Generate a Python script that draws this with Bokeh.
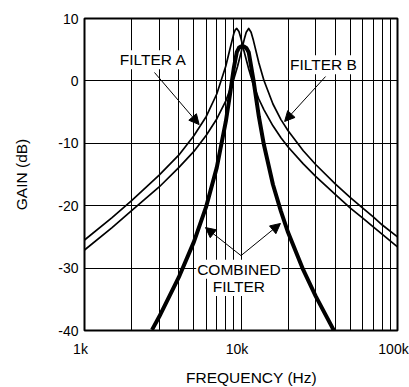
from bokeh.plotting import figure
from bokeh.models import Range1d, FixedTicker, Label, Arrow, NormalHead
from bokeh.layouts import column
from bokeh.embed import file_html
from bokeh.resources import INLINE

# ---- data ----
freq_a = [1000, 1500, 2000, 3000, 4000, 5000, 6000, 7000, 8000, 8500, 9000, 9200, 9400,
          9700, 10000, 10500, 11200, 12000, 13000, 14000, 16000, 18000, 20000, 25000,
          30000, 40000, 50000, 60000, 70000, 80000, 100000]
gain_a = [-25.5, -21.9, -19.2, -15.1, -11.9, -8.8, -5.7, -2.1, 2.4, 5.1, 7.6, 8.2, 8.4,
          7.9, 6.8, 4.6, 1.9, -0.6, -2.9, -4.6, -7.2, -9.1, -10.6, -13.3,
          -15.3, -18.2, -20.4, -22.0, -23.4, -24.6, -26.6]

freq_b = [1000, 1500, 2000, 3000, 4000, 5000, 6000, 7000, 8000, 9000, 9500, 10000, 10500,
          10800, 11200, 11600, 12000, 13000, 14000, 16000, 18000, 20000, 25000, 30000,
          40000, 50000, 60000, 70000, 80000, 100000]
gain_b = [-27.1, -23.5, -20.8, -17.0, -13.9, -11.3, -8.7, -6.1, -3.2, 0.3, 2.3, 4.5, 6.7,
          7.8, 8.4, 7.8, 6.5, 2.9, 0.1, -3.7, -6.2, -8.0, -11.2, -13.4,
          -16.5, -18.7, -20.4, -21.8, -23.1, -25.0]

freq_c = [2700, 3000, 4000, 5000, 6000, 7000, 8000, 8500, 9000, 9400, 9700, 10000, 10250,
          10500, 10800, 11200, 12000, 13000, 14000, 16000, 18000, 20000, 25000, 30000, 40000]
gain_c = [-39.9, -37.8, -31.5, -25.8, -20.1, -13.9, -6.5, -2.2, 2.1, 4.6, 5.3, 5.5, 5.5,
          5.5, 5.3, 4.6, 0.2, -5.7, -10.2, -16.6, -20.9, -24.3, -30.3, -34.5, -40.4]

x_major = [1000, 10000, 100000]
x_minor = [2000, 3000, 4000, 5000, 6000, 7000, 8000, 9000,
           20000, 30000, 40000, 50000, 60000, 70000, 80000, 90000]
x_tick_labels = ["1k", "10k", "100k"]
y_ticks = [-40, -30, -20, -10, 0, 10]
y_tick_labels = ["-40", "-30", "-20", "-10", "0", "10"]

x_title = "FREQUENCY (Hz)"
y_title = "GAIN (dB)"

FONT = "Liberation Sans"
W = 409
LEFT, RIGHT, TOP = 84, 12, 18
FRAME_W, FRAME_H = 313, 312
MAIN_H = TOP + FRAME_H + 9
BOTTOM_H = 387 - MAIN_H

p = figure(width=W, height=MAIN_H, x_axis_type="log",
           x_range=Range1d(1000, 100000), y_range=Range1d(-40, 10),
           output_backend="svg", toolbar_location=None, frame_align=False,
           min_border_left=LEFT, min_border_right=RIGHT, min_border_top=TOP,
           min_border_bottom=MAIN_H - TOP - FRAME_H)
p.background_fill_color = "white"
p.border_fill_color = "white"
p.outline_line_color = "black"
p.outline_line_width = 2

p.xaxis.visible = False

yax = p.yaxis[0]
yax.ticker = FixedTicker(ticks=y_ticks)
yax.major_label_overrides = dict(zip(y_ticks, y_tick_labels))
yax.axis_line_color = None
yax.major_tick_line_color = None
yax.minor_tick_line_color = None
yax.major_tick_out = 0
yax.major_tick_in = 0
yax.major_label_standoff = 6
yax.major_label_text_font = FONT
yax.major_label_text_font_size = "14px"
yax.major_label_text_color = "black"
yax.axis_label = y_title
yax.axis_label_text_font = FONT
yax.axis_label_text_font_size = "15.5px"
yax.axis_label_text_font_style = "normal"
yax.axis_label_text_color = "black"
yax.axis_label_standoff = 25

p.xgrid.ticker = FixedTicker(ticks=x_major, minor_ticks=x_minor)
p.xgrid.grid_line_color = "black"
p.xgrid.grid_line_width = 1
p.xgrid.minor_grid_line_color = "black"
p.xgrid.minor_grid_line_width = 1
p.ygrid.ticker = FixedTicker(ticks=y_ticks)
p.ygrid.grid_line_color = "black"
p.ygrid.grid_line_width = 1

p.line(freq_a, gain_a, line_color="black", line_width=1.7, line_join="round")
p.line(freq_b, gain_b, line_color="black", line_width=1.7, line_join="round")
p.line(freq_c, gain_c, line_color="black", line_width=4, line_join="round")


def note(x, y, txt):
    p.add_layout(Label(x=x, y=y, text=txt, text_align="center", text_baseline="middle",
                       text_font=FONT, text_font_size="15.5px", text_color="black",
                       background_fill_color="white", padding=1))


def arrow(x0, y0, x1, y1):
    p.add_layout(Arrow(end=NormalHead(size=10, fill_color="black", line_color="black",
                                      line_width=1),
                       x_start=x0, y_start=y0, x_end=x1, y_end=y1,
                       line_color="black", line_width=1))


arrow(2800, 1.35, 5400, -7.0)
arrow(34700, 0.7, 19000, -6.5)
arrow(10000, -28.0, 5930, -23.5)
arrow(10000, -28.0, 17870, -22.85)

note(2750, 3.4, "FILTER A")
note(33650, 2.6, "FILTER B")
note(9700, -30.2, "COMBINED")
note(9700, -32.95, "FILTER")

# ---- strip below the frame: x tick labels and x title, on the same log scale ----
dec_px = FRAME_W / 2.0
x_lo = 1000 * 10 ** (-LEFT / dec_px)
x_hi = 100000 * 10 ** (RIGHT / dec_px)
q = figure(width=W, height=BOTTOM_H, x_axis_type="log",
           x_range=Range1d(x_lo, x_hi), y_range=Range1d(0, BOTTOM_H),
           output_backend="svg", toolbar_location=None, frame_align=False,
           min_border_left=0, min_border_right=0, min_border_top=0, min_border_bottom=0)
q.axis.visible = False
q.grid.visible = False
q.outline_line_color = None
q.background_fill_color = "white"
q.border_fill_color = "white"

for xv, txt in zip(x_major, x_tick_labels):
    q.add_layout(Label(x=xv, y=BOTTOM_H - 9, x_offset=-4, text=txt,
                       text_align="center", text_baseline="middle",
                       text_font=FONT, text_font_size="14px", text_color="black"))

q.add_layout(Label(x=11670, y=BOTTOM_H - 38, text=x_title,
                   text_align="center", text_baseline="middle",
                   text_font=FONT, text_font_size="15.5px", text_color="black"))

layout = column(p, q, spacing=0)
open("out.html", "w").write(file_html(layout, INLINE))
